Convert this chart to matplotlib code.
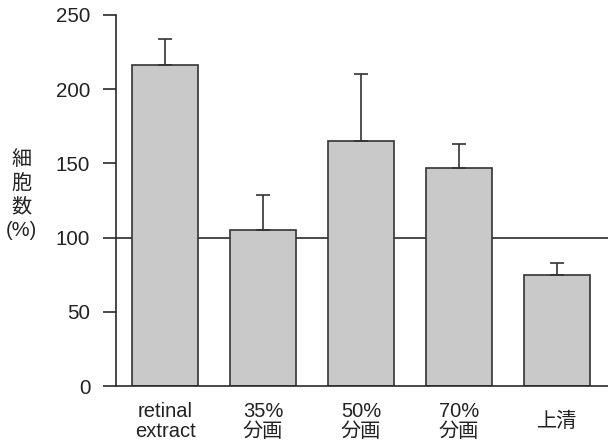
import matplotlib
matplotlib.use("Agg")
import matplotlib.pyplot as plt

plt.rcParams['font.family'] = ['Liberation Sans', 'Noto Sans CJK JP']

# data
categories = ["retinal\nextract", "35%\n分画", "50%\n分画", "70%\n分画", "上清"]
values = [216, 105, 165, 147, 75]
err_up = [18, 24, 45, 16, 8]
ref_level = 100
yticks = [0, 50, 100, 150, 200, 250]

fig = plt.figure(figsize=(6.08, 4.47), dpi=100)
ax = fig.add_axes([116/608, 1 - 386/447, 1 - 116/608, 371/447])

x = range(len(categories))
ax.axhline(ref_level, color="#2a2a2a", lw=1.2, zorder=1)
ax.bar(x, values, width=0.67, color="#c9c9c9", edgecolor="#333333",
       linewidth=1.2, zorder=2)
ax.errorbar(x, values, yerr=[[0]*len(values), err_up], fmt="none",
            ecolor="#333333", elinewidth=1.2, capsize=5, capthick=1.2, zorder=3)

ax.set_xlim(-0.5, 4.52)
ax.set_ylim(0, 250)
ax.set_yticks(yticks)
ax.set_xticks([])
for s in ["top", "right"]:
    ax.spines[s].set_visible(False)
for s in ["left", "bottom"]:
    ax.spines[s].set_color("#2a2a2a")
    ax.spines[s].set_linewidth(1.2)
ax.tick_params(axis="y", direction="out", length=9.5, width=1.2,
               color="#2a2a2a", labelsize=14.8, pad=9, labelcolor="#222222")

for i, lab in enumerate(categories):
    ax.text(i, -0.096, lab, transform=ax.get_xaxis_transform(), ha="center",
            va="center", fontsize=14.5, linespacing=1.1, color="#222222")

fig.text(21/608, 1 - 195/447, "細\n胞\n数\n(%)", ha="center", va="center",
         fontsize=14.5, linespacing=1.3, color="#222222")

fig.savefig("out.png", dpi=100)
